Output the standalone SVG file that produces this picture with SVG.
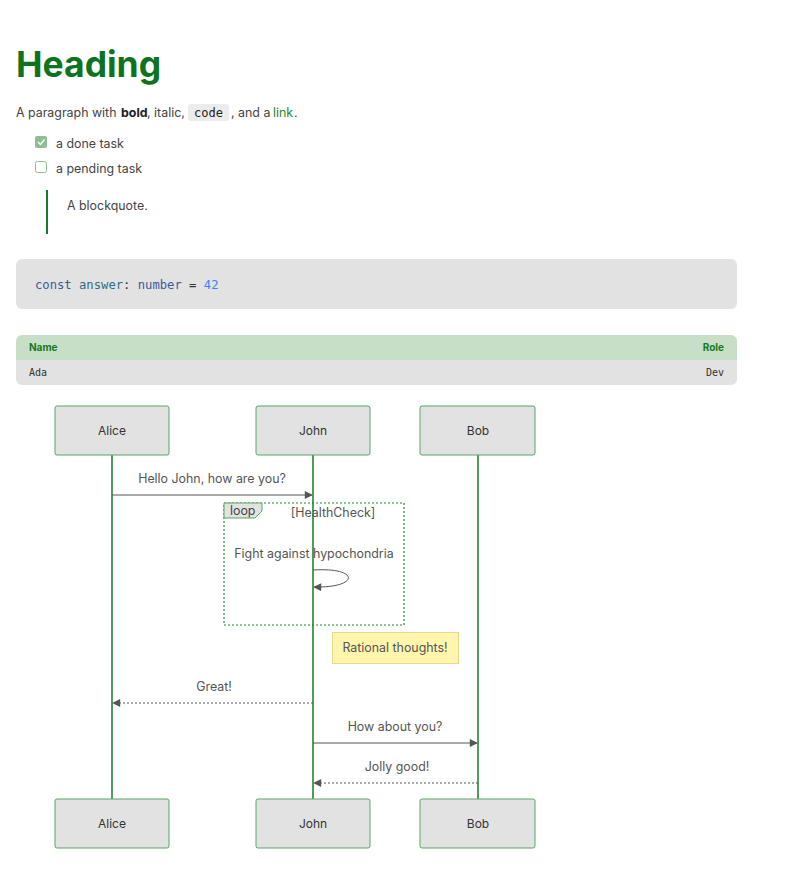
<svg xmlns="http://www.w3.org/2000/svg" width="804" height="892" viewBox="0 0 804 892">
<defs>
<style>
text{font-family:Inter,"Liberation Sans",sans-serif}
.p{font-size:12.4px;fill:#444}
.mono{font-family:"DejaVu Sans Mono","Liberation Mono",monospace}
.actor rect{fill:#e2e2e2;stroke:#5aa566;stroke-width:1}
.actor text{font-size:12px;fill:#333;text-anchor:middle}
.life{stroke:#177a26;stroke-width:1.5}
.msg{stroke:#555;stroke-width:1;fill:none}
.dash{stroke-dasharray:2 2}
.lbl{font-size:12.4px;fill:#555;text-anchor:middle}
</style>
<marker id="ah" viewBox="0 0 10 10" refX="9" refY="5" markerWidth="10" markerHeight="8" markerUnits="userSpaceOnUse" orient="auto">
<path d="M0,0 L10,5 L0,10 z" fill="#555"/>
</marker>
</defs>
<rect width="804" height="892" fill="#fff"/>

<g id="doc">
<text x="16" y="77" font-size="35.5" font-weight="bold" fill="#0e7321">Heading</text>
<rect x="188" y="104" width="41" height="17" rx="3" fill="#ececec"/>
<text class="p" y="117"><tspan x="16">A paragraph with</tspan><tspan x="121" font-weight="bold" fill="#222">bold</tspan><tspan x="147">, italic,</tspan><tspan x="194" class="mono" fill="#222" font-size="12">code</tspan><tspan x="231">, and a</tspan><tspan x="273" fill="#1f8a2e">link</tspan><tspan x="294">.</tspan></text>
<rect x="35" y="136" width="12" height="12" rx="2" fill="#8dbf93"/>
<path d="M38,142 L40.5,144.5 L44.5,139.5" stroke="#fff" stroke-width="1.5" fill="none"/>
<text class="p" x="56" y="148">a done task</text>
<rect x="35.5" y="161.5" width="11" height="11" rx="2" fill="#fff" stroke="#8dbf93"/>
<text class="p" x="56" y="173">a pending task</text>
<rect x="46" y="190" width="2" height="44" fill="#177a26"/>
<text class="p" x="67" y="210">A blockquote.</text>

<rect x="16" y="259" width="721" height="50" rx="6" fill="#e2e2e2"/>
<text class="mono" x="35" y="289" font-size="12.2" fill="#333"><tspan fill="#3b5a9a">const</tspan> <tspan fill="#2b6f85">answer</tspan>: <tspan fill="#3b5a9a">number</tspan> = <tspan fill="#3b82f6">42</tspan></text>

<path d="M22,335 H731 a6,6 0 0 1 6,6 V360 H16 V341 a6,6 0 0 1 6,-6 z" fill="#c6dfc6"/>
<path d="M16,360 H737 V379 a6,6 0 0 1 -6,6 H22 a6,6 0 0 1 -6,-6 z" fill="#e2e2e2"/>
<text x="29" y="351" font-size="10" font-weight="bold" fill="#137a24">Name</text>
<text x="724" y="351" font-size="10" font-weight="bold" fill="#137a24" text-anchor="end">Role</text>
<text class="mono" x="29" y="376" font-size="10" fill="#333">Ada</text>
<text class="mono" x="724" y="376" font-size="10" fill="#333" text-anchor="end">Dev</text>
</g>

<g id="lifelines">
<line class="life" x1="112" y1="455" x2="112" y2="799"/>
<line class="life" x1="313" y1="455" x2="313" y2="799"/>
<line class="life" x1="478" y1="455" x2="478" y2="799"/>
</g>

<g id="alice-top" class="actor"><rect x="55" y="406" width="114" height="49" rx="2"/><text x="112" y="435">Alice</text></g>
<g id="john-top" class="actor"><rect x="256" y="406" width="114" height="49" rx="2"/><text x="313" y="435">John</text></g>
<g id="bob-top" class="actor"><rect x="420" y="406" width="115" height="49" rx="2"/><text x="478" y="435">Bob</text></g>
<g id="alice-bottom" class="actor"><rect x="55" y="799" width="114" height="49" rx="2"/><text x="112" y="828">Alice</text></g>
<g id="john-bottom" class="actor"><rect x="256" y="799" width="114" height="49" rx="2"/><text x="313" y="828">John</text></g>
<g id="bob-bottom" class="actor"><rect x="420" y="799" width="115" height="49" rx="2"/><text x="478" y="828">Bob</text></g>

<g id="loop">
<rect x="224" y="503" width="180" height="122" fill="none" stroke="#1f8a2e" stroke-width="1.2" stroke-dasharray="2 2"/>
<path d="M224,503 H262 V511 L255,518 H224 z" fill="#e2e2e2" stroke="#5aa566"/>
<text x="230" y="515" font-size="12.4" fill="#444">loop</text>
<text class="lbl" x="333" y="517">[HealthCheck]</text>
</g>

<g id="note">
<rect x="332.5" y="632.5" width="126" height="31" fill="#fff5ad" stroke="#e3da8c"/>
<text class="lbl" x="395" y="652">Rational thoughts!</text>
</g>

<g id="connectors">
<text class="lbl" x="212" y="483">Hello John, how are you?</text>
<line class="msg" x1="112" y1="495" x2="312" y2="495" marker-end="url(#ah)"/>
<text class="lbl" x="314" y="558">Fight against hypochondria</text>
<path class="msg" d="M313,570 C360,567 360,588 314,587" marker-end="url(#ah)"/>
<text class="lbl" x="214" y="691">Great!</text>
<line class="msg dash" x1="313" y1="703" x2="113" y2="703" marker-end="url(#ah)"/>
<text class="lbl" x="395" y="731">How about you?</text>
<line class="msg" x1="313" y1="743" x2="477" y2="743" marker-end="url(#ah)"/>
<text class="lbl" x="397" y="771">Jolly good!</text>
<line class="msg dash" x1="478" y1="783" x2="314" y2="783" marker-end="url(#ah)"/>
</g>
</svg>
